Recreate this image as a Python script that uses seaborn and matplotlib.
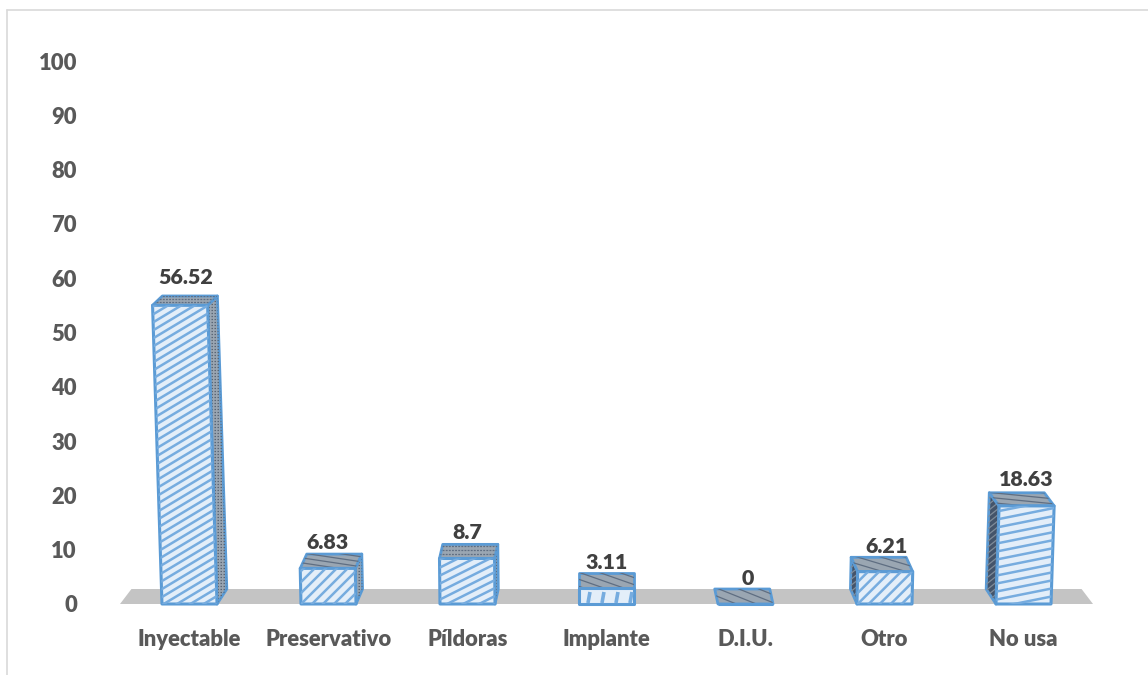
import numpy as np
import pandas as pd
import seaborn as sns
import matplotlib
matplotlib.use("Agg")
import matplotlib.pyplot as plt
from matplotlib.collections import LineCollection
from matplotlib.lines import Line2D
from matplotlib.patches import Polygon
from matplotlib.transforms import Affine2D, IdentityTransform

categories = ["Inyectable", "Preservativo", "Píldoras", "Implante", "D.I.U.", "Otro", "No usa"]
values = [56.52, 6.83, 8.7, 3.11, 0, 6.21, 18.63]
y_ticks = [0, 10, 20, 30, 40, 50, 60, 70, 80, 90, 100]

# styling
BLUE = "#5B9BD5"
HATCH_BLUE = "#76ACDF"
PALE = "#E3EEF9"
FLOOR = "#C4C4C4"
TOP_FILL = "#9AA6B2"
SIDE_DARK = "#44546A"
BAR_W = 0.396
DEPTH_X = 0.0235        # receding factor towards chart centre
SHEAR = 0.0004          # lean of the front face
CENTRE = 3
# (slope, spacing px) of each front face hatch
front_hatch = [(0.6, 8), (1.0, 11), (0.5, 8), (None, 0), (0.5, 9), (1.0, 11), (0.2, 8)]
top_hatch = [(0.0, 3), (-0.15, 5), (0.0, 4), (-0.35, 7), (-0.4, 8), (-0.3, 7), (-0.1, 5)]
label_gap = [18, 12, 12, 11, 11, 11, 13]
label_dx = [-4, -1, 0, 0, 2, 2, 3]

sns.set_style("white")
plt.rcParams["font.family"] = ["Lato", "DejaVu Sans"]
plt.rcParams["font.weight"] = "heavy"

fig = plt.figure(figsize=(11.48, 6.75), dpi=100, facecolor="white")
ax = fig.add_axes([120 / 1148, 71 / 675, 973 / 1148, 543 / 675])

df = pd.DataFrame({"cat": categories, "val": values})
sns.barplot(data=df, x="cat", y="val", ax=ax, width=BAR_W, color=PALE,
            saturation=1, edgecolor=BLUE, linewidth=2.2, zorder=5, legend=False)
ax.set_xlim(-0.5, 6.5)
ax.set_ylim(0, 100)


def depth_y(v):
    """Apparent depth of the top face, shrinking with the height of the bar."""
    return 2.76 - 0.0184 * v


def squash(v):
    """Perspective shortening of the front face."""
    return (0.975 * v - 0.1) / v if v > 0 else 1.0


def hatch(verts, slope, spacing, color, lw, zorder, dash=None):
    """Draw clipped slanted lines over a face, verts given in data units."""
    pts = ax.transData.transform(np.asarray(verts))
    x0, x1 = pts[:, 0].min(), pts[:, 0].max()
    y0, y1 = pts[:, 1].min(), pts[:, 1].max()
    reach = abs(slope) * (x1 - x0)
    segs = [[(x0, b), (x1, b + slope * (x1 - x0))]
            for b in np.arange(y0 - reach - spacing, y1 + reach + spacing, spacing)]
    add_lines(segs, verts, color, lw, zorder, dash)


def add_lines(segs, verts, color, lw, zorder, dash=None):
    lc = LineCollection(segs, colors=color, linewidths=lw, transform=IdentityTransform(),
                        zorder=zorder, linestyles=dash if dash else "solid")
    ax.add_collection(lc, autolim=False)
    lc.set_clip_path(Polygon(verts, closed=True, transform=ax.transData))


def face(verts, fc, zorder):
    p = Polygon(verts, closed=True, fc=fc, ec=BLUE, lw=2.0, joinstyle="round",
                zorder=zorder, clip_on=False)
    ax.add_patch(p)
    return p


# floor
d_left = DEPTH_X * (CENTRE + 0.5)
floor_h = depth_y(0)
floor = Polygon([(-0.5, 0), (6.5, 0), (6.5 - d_left, floor_h), (-0.5 + d_left, floor_h)],
                closed=True, fc=FLOOR, ec="none", zorder=1, clip_on=False)
ax.add_patch(floor)

for i, (bar, v) in enumerate(zip(ax.patches[:len(values)], values)):
    shear = SHEAR * (i - CENTRE)
    dx = DEPTH_X * (CENTRE - i)
    xl, xr = bar.get_x(), bar.get_x() + bar.get_width()
    sq = squash(v)
    h = v * sq
    top_l = xl + shear * v
    top_r = xr + shear * v
    back = h + depth_y(v)

    # lean and shorten the seaborn bar
    bar.set_transform(Affine2D(np.array([[1, shear, 0], [0, sq, 0], [0, 0, 1]])) + ax.transData)
    bar.set_clip_on(False)
    bar.set_joinstyle("round")

    # side face
    if i != CENTRE and v > 0:
        if i < CENTRE:
            side = [(top_r, h), (top_r + dx, back), (xr + dx, floor_h), (xr, 0)]
            fc, hc, sl, sp, ls = TOP_FILL, "#5A6675", 0.0, 3, (0, (1.2, 1.2))
        else:
            side = [(top_l, h), (top_l + dx, back), (xl + dx, floor_h), (xl, 0)]
            fc, hc, sl, sp, ls = SIDE_DARK, "#7F8C9A", 0.8, 6, None
        face(side, fc, 3)
        hatch(side, sl, sp, hc, 0.9, 3.5, dash=ls)

    # top face
    top = [(top_l, h), (top_r, h), (top_r + dx, back), (top_l + dx, back)]
    face(top, TOP_FILL, 4)
    sl, sp = top_hatch[i]
    hatch(top, sl, sp, "#5F6E82", 0.9, 4.5, dash=(0, (1.5, 1.0)) if i in (0, 2) else None)

    # front face hatch
    if v > 0:
        corners = [(xl, 0), (xr, 0), (top_r, h), (top_l, h)]
        sl, sp = front_hatch[i]
        if sl is None:
            # step pattern of the Implante bar
            pts = ax.transData.transform(np.array(corners))
            x0, x1 = pts[:, 0].min(), pts[:, 0].max()
            y0 = pts[:, 1].min()
            segs = [[(x, y0 + 1), (x + 2, y0 + 12)] for x in np.arange(x0 + 9, x1, 14)]
            add_lines(segs, corners, HATCH_BLUE, 2.6, 5.5)
        else:
            hatch(corners, sl, sp, HATCH_BLUE, 1.8, 5.5)

    # data label
    ax.annotate(f"{v:g}", (i, back), xytext=(label_dx[i] * 0.72, label_gap[i] * 0.72),
                textcoords="offset points", ha="center", va="center",
                fontsize=15.4, fontweight="heavy", color="#404040", zorder=8)

ax.set_yticks(y_ticks)
ax.set_xlabel("")
ax.set_ylabel("")
ax.tick_params(axis="y", length=0, pad=31, labelsize=15.8, labelcolor="#595959")
ax.tick_params(axis="x", length=0, pad=18, labelsize=15.8, labelcolor="#595959")
ax.patch.set_alpha(0)
sns.despine(ax=ax, left=True, bottom=True)

# chart-area border
for xs, ys in [((7, 7), (0, 665)), ((7, 1148), (665, 665))]:
    fig.add_artist(Line2D(np.array(xs) / 1148, np.array(ys) / 675, color="#D9D9D9", lw=1.2))

fig.savefig("out.png", dpi=100, facecolor="white")
